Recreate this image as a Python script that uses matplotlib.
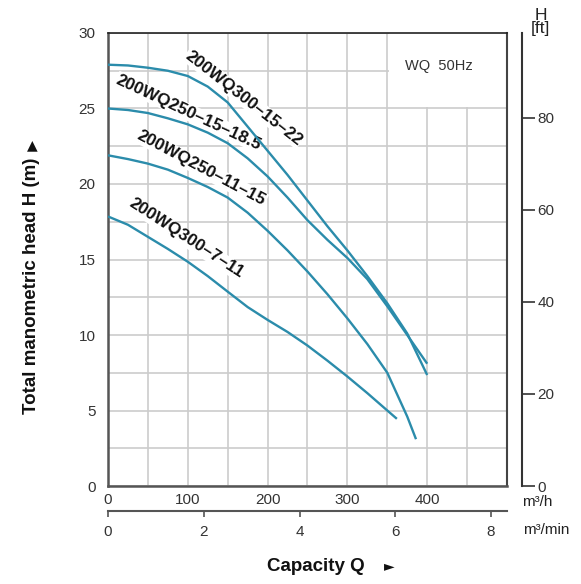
import matplotlib
matplotlib.use("Agg")
import matplotlib.pyplot as plt
from matplotlib.patches import Rectangle

plt.rcParams['font.family'] = ['Liberation Sans', 'DejaVu Sans']

# pump curves, Q in m3/h, H in m
q1 = [0, 25, 50, 75, 100, 125, 150, 175, 200, 225, 250, 275, 300, 325, 350, 375, 400]
h1 = [27.9, 27.85, 27.7, 27.5, 27.15, 26.45, 25.4, 23.8, 22.2, 20.6, 18.9, 17.2, 15.6, 13.9, 12.1, 10.1, 7.35]

q2 = [0, 25, 50, 75, 100, 125, 150, 175, 200, 225, 250, 275, 300, 325, 350, 375, 400]
h2 = [25.0, 24.9, 24.7, 24.35, 23.95, 23.4, 22.7, 21.7, 20.5, 19.1, 17.6, 16.3, 15.1, 13.7, 11.9, 10.0, 8.1]

q3 = [0, 25, 50, 75, 100, 125, 150, 175, 200, 225, 250, 275, 300, 325, 350, 375, 386]
h3 = [21.9, 21.65, 21.35, 20.95, 20.4, 19.8, 19.1, 18.1, 16.9, 15.6, 14.2, 12.7, 11.1, 9.4, 7.5, 4.6, 3.1]

q4 = [0, 25, 50, 75, 100, 125, 150, 175, 200, 225, 250, 275, 300, 325, 350, 362]
h4 = [17.85, 17.3, 16.5, 15.7, 14.85, 13.9, 12.87, 11.85, 11.0, 10.2, 9.3, 8.3, 7.25, 6.15, 5.0, 4.45]

names = ["200WQ300–15–22", "200WQ250–15–18.5", "200WQ250–11–15", "200WQ300–7–11"]

xticks = [0, 50, 100, 150, 200, 250, 300, 350, 400, 450, 500]
xlabels = ["0", "", "100", "", "200", "", "300", "", "400", "", ""]
yticks = [0, 2.5, 5, 7.5, 10, 12.5, 15, 17.5, 20, 22.5, 25, 27.5, 30]
ylabels = ["0", "", "5", "", "10", "", "15", "", "20", "", "25", "", "30"]
ft_ticks = [0, 20, 40, 60, 80]
min_ticks = [0, 2, 4, 6, 8]

M_TO_FT = 3.28084
col = '#2b8cab'

fig = plt.figure(figsize=(5.81, 5.84), dpi=100)
ax = fig.add_axes([0.1859, 0.1678, 0.6867, 0.7757])
ax.set_xlim(0, 500)
ax.set_ylim(0, 30)
ax.set_axisbelow(True)

ax.set_xticks(xticks)
ax.set_xticklabels(xlabels)
ax.set_yticks(yticks)
ax.set_yticklabels(ylabels)
ax.tick_params(length=0, labelsize=11, labelcolor='#333333')
ax.tick_params(axis='y', pad=9)
ax.tick_params(axis='x', pad=5)
ax.grid(True, color='#cccccc', lw=1.2)

for s in ['left', 'bottom']:
    ax.spines[s].set_color('#555555')
    ax.spines[s].set_linewidth(1.8)
ax.spines['top'].set_color('#222222')
ax.spines['top'].set_linewidth(1.2)
ax.spines['right'].set_color('#444444')
ax.spines['right'].set_linewidth(1.5)

# blank corner behind the "WQ 50Hz" note
ax.add_patch(Rectangle((352, 25.1), 148, 4.9, facecolor='white', edgecolor='none', zorder=1))
ax.text(415, 27.8, "WQ  50Hz", fontsize=10.5, ha='center', va='center', color='#333333', zorder=3)

for q, h in [(q1, h1), (q2, h2), (q3, h3), (q4, h4)]:
    ax.plot(q, h, color=col, lw=1.7, zorder=4, solid_joinstyle='round', solid_capstyle='butt')

# curve labels (position, angle)
lab_q = [170, 101, 117, 98]
lab_h = [25.7, 24.75, 21.05, 16.4]
lab_rot = [-38, -25, -28, -33]
for name, lq, lh, rot in zip(names, lab_q, lab_h, lab_rot):
    ax.text(lq, lh, name, rotation=rot, rotation_mode='anchor', ha='center', va='center',
            fontsize=12.3, fontweight='bold', color='#111111', zorder=3,
            bbox=dict(facecolor='white', edgecolor='none', pad=0.6))

# head in feet on the right
ax_ft = ax.secondary_yaxis(1.0376, functions=(lambda m: m * M_TO_FT, lambda f: f / M_TO_FT))
ax_ft.set_yticks(ft_ticks)
ax_ft.tick_params(direction='out', length=9, width=1.2, labelsize=11, pad=2,
                  color='#333333', labelcolor='#333333')
for sp in ax_ft.spines.values():
    sp.set_linewidth(1.5)
    sp.set_color('#333333')

# flow in m3/min underneath
ax_min = ax.secondary_xaxis(-0.0552, functions=(lambda q: q / 60, lambda m: m * 60))
ax_min.set_xticks(min_ticks)
ax_min.tick_params(direction='out', length=4, width=1.2, labelsize=11, pad=6,
                   color='#555555', labelcolor='#333333')
for sp in ax_min.spines.values():
    sp.set_linewidth(1.5)
    sp.set_color('#555555')

fig.text(0.931, 0.963, "H\n[ft]", ha='center', va='center', fontsize=12.5, linespacing=0.85, color='#222222')
fig.text(0.898, 0.141, "m³/h", ha='left', va='center', fontsize=11, color='#222222')
fig.text(0.900, 0.0925, "m³/min", ha='left', va='center', fontsize=11, color='#222222')

fig.text(0.544, 0.0308, "Capacity Q", ha='center', va='center', fontsize=13.5, fontweight='bold', color='#111111')
fig.text(0.6695, 0.0308, "►", ha='center', va='center', fontsize=10, color='#111111',
         family=['DejaVu Sans'])
fig.text(0.055, 0.5103, "Total manometric head H (m)", rotation=90, ha='center', va='center',
         fontsize=13.5, fontweight='bold', color='#111111')
fig.text(0.055, 0.752, "▲", ha='center', va='center', fontsize=10, color='#111111',
         family=['DejaVu Sans'])

fig.savefig("out.png", dpi=100)
